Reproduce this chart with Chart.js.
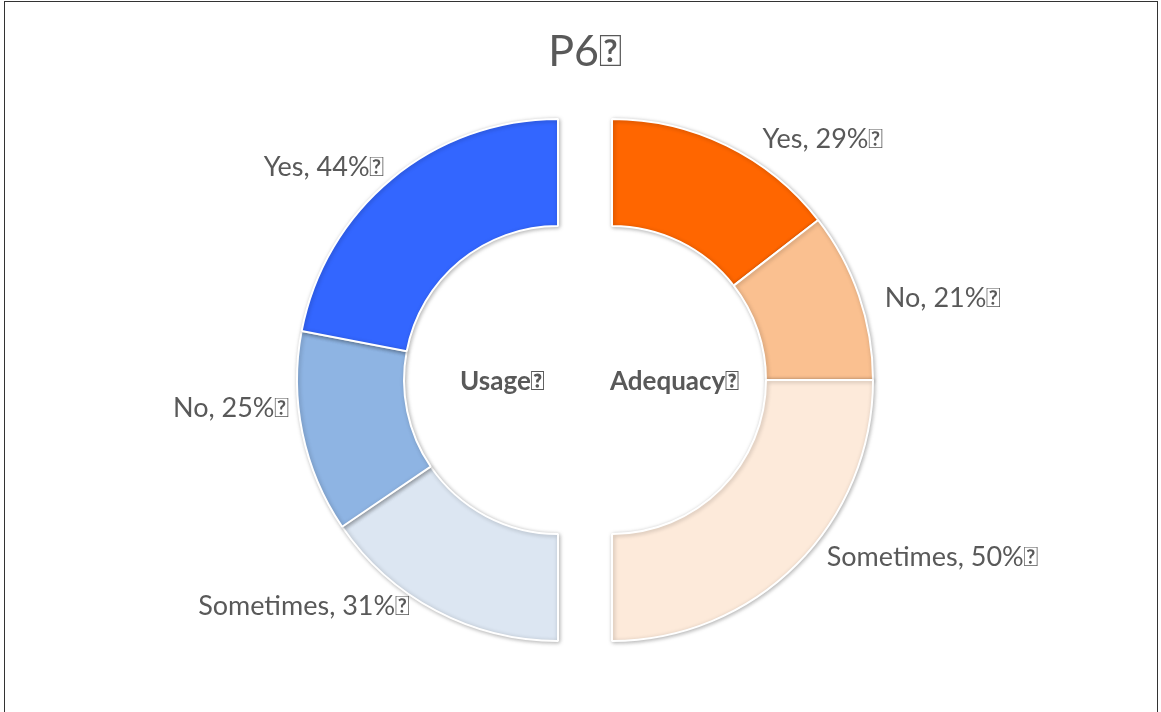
<!DOCTYPE html>
<html>
<head>
<meta charset="utf-8">
<script src="https://cdn.jsdelivr.net/npm/chart.js@4.4.1/dist/chart.umd.min.js"></script>
<style>
    html, body { margin: 0; padding: 0; background: #fff; overflow: hidden; }
    #wrap { position: relative; width: 1161px; height: 712px; }
    #frame { position: absolute; left: 4px; top: 1px; width: 1152px; height: 720px; border: 1px solid #333; }
    canvas { position: absolute; left: 0; top: 0; }
</style>
</head>
<body>
<div id="wrap">
    <canvas id="myChart" width="1161" height="712"></canvas>
    <div id="frame"></div>
</div>
<script>
// ============================================================================
// データ
// ============================================================================

const chartTitle = "P6\uE000";
const categories = ["Yes", "No", "Sometimes"];
const usageValues = [44, 25, 31];
const adequacyValues = [29, 21, 50];
const groupNames = ["Usage\uE000", "Adequacy\uE000"];

const usageColors = ["#3366FF", "#8EB4E3", "#DCE6F2"];
const adequacyColors = ["#FF6600", "#FAC090", "#FDEADA"];

// 右半分(Adequacy)は上から時計回り、左半分(Usage)は下から時計回りに並べる
const sliceValues = [...adequacyValues, ...usageValues.slice().reverse()];
const sliceColors = [...adequacyColors, ...usageColors.slice().reverse()];
const sliceLabels = [
    ...categories.map((c, i) => `${c}, ${adequacyValues[i]}%\uE000`),
    ...categories.map((c, i) => `${c}, ${usageValues[i]}%\uE000`).reverse(),
];

// ラベル位置の微調整
const labelNudge = [[27, 12], [7, 9], [16, -21], [-17, -22], [6, -29], [5, 4]];
const halfGap = 27;
const textColor = "#595959";
const fontFamily = "Lato, 'Open Sans', sans-serif";

// ============================================================================
// 左右に半分ずつずらす + ラベル描画
// ============================================================================

const splitHalves = {
    id: "splitHalves",
    afterDatasetsUpdate(chart) {
        const meta = chart.getDatasetMeta(0);
        meta.data.forEach((arc, i) => {
            arc.x += i < adequacyValues.length ? halfGap : -halfGap;
        });
    },
    beforeDatasetsDraw(chart) {
        const c = chart.ctx;
        c.save();
        c.shadowColor = "rgba(0,0,0,0.28)";
        c.shadowBlur = 4;
        c.shadowOffsetX = 1;
        c.shadowOffsetY = 1;
    },
    afterDatasetsDraw(chart) {
        const c = chart.ctx;
        c.restore();
        const meta = chart.getDatasetMeta(0);
        c.save();
        c.fillStyle = textColor;
        c.textBaseline = "middle";
        c.font = `27px ${fontFamily}`;
        meta.data.forEach((arc, i) => {
            const mid = (arc.startAngle + arc.endAngle) / 2;
            const r = arc.outerRadius + 20;
            const x = arc.x + Math.cos(mid) * r + labelNudge[i][0];
            const y = arc.y + Math.sin(mid) * r + labelNudge[i][1];
            c.textAlign = Math.cos(mid) >= 0 ? "left" : "right";
            c.fillText(sliceLabels[i], x, y);
        });

        // 中央のグループ名
        c.font = `bold 26px ${fontFamily}`;
        const left = meta.data[meta.data.length - 1];
        const right = meta.data[0];
        c.textAlign = "right";
        c.fillText(groupNames[0], left.x - 13, left.y + 2);
        c.textAlign = "left";
        c.fillText(groupNames[1], right.x - 2, right.y + 2);
        c.restore();
    },
};

const ctx = document.getElementById("myChart");

new Chart(ctx, {
    type: "doughnut",
    data: {
        labels: sliceLabels,
        datasets: [
            {
                data: sliceValues,
                backgroundColor: sliceColors,
                borderColor: "#ffffff",
                borderWidth: 2,
            },
        ],
    },
    options: {
        responsive: false,
        animation: false,
        cutout: "59%",
        layout: {
            padding: { top: 0, bottom: 70, left: 323, right: 314 },
        },
        plugins: {
            legend: { display: false },
            tooltip: { enabled: false },
            title: {
                display: true,
                text: chartTitle,
                color: textColor,
                font: { family: fontFamily, size: 43, weight: "normal", lineHeight: 1.2 },
                padding: { top: 26, bottom: 40.4 },
            },
        },
    },
    plugins: [splitHalves],
});
</script>
</body>
</html>
